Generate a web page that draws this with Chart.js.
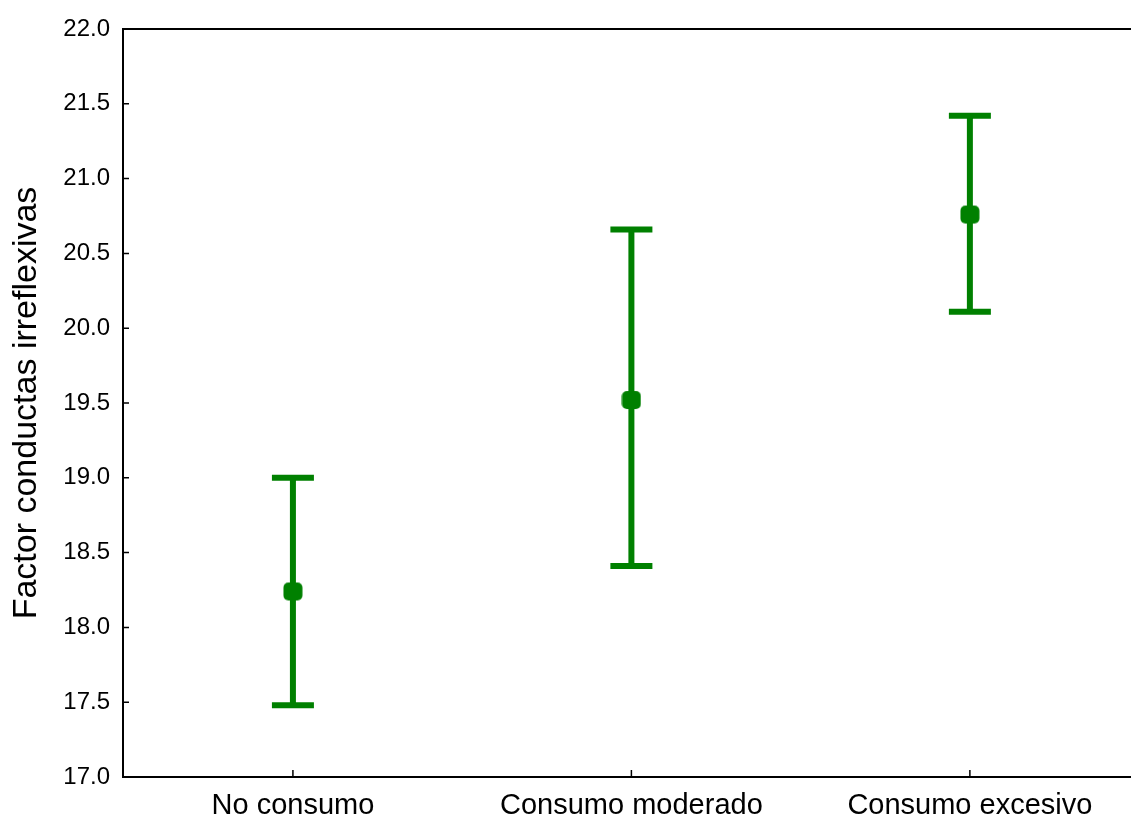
<!DOCTYPE html>
<html>
<head>
<meta charset="utf-8">
<script src="https://cdn.jsdelivr.net/npm/chart.js@4"></script>
<style>
html,body{margin:0;padding:0;background:#fff;}
#wrap{width:1131px;height:818px;position:relative;}
</style>
</head>
<body>
<div id="wrap"><canvas id="c" width="1131" height="818"></canvas></div>
<script>
const categories = ["No consumo", "Consumo moderado", "Consumo excesivo"];
const means = [18.24, 19.52, 20.76];
const lowerBounds = [17.48, 18.41, 20.11];
const upperBounds = [19.00, 20.66, 21.42];
const yTicks = [17.0, 17.5, 18.0, 18.5, 19.0, 19.5, 20.0, 20.5, 21.0, 21.5, 22.0];
const yTitle = "Factor conductas irreflexivas";
const green = "#008000";

// marker image (rounded square)
const marker = document.createElement('canvas');
marker.width = 20; marker.height = 20;
(function(){
  const m = marker.getContext('2d');
  m.fillStyle = green;
  m.beginPath();
  m.roundRect(0.5, 1, 19, 18, 5);
  m.fill();
})();

const framePlugin = {
  id: 'frame',
  beforeDatasetsDraw(chart) {
    const ctx = chart.ctx, a = chart.chartArea;
    const xs = chart.scales.x, ys = chart.scales.y;
    ctx.save();
    ctx.strokeStyle = '#000';
    ctx.lineWidth = 2;
    ctx.beginPath();
    ctx.moveTo(a.left, a.top); ctx.lineTo(a.right, a.top);
    ctx.moveTo(a.left, a.top - 1); ctx.lineTo(a.left, a.bottom + 1);
    ctx.moveTo(a.left - 1, a.bottom); ctx.lineTo(a.right, a.bottom);
    ctx.stroke();
    ctx.lineWidth = 1.5;
    ctx.beginPath();
    yTicks.forEach(v => {
      const py = ys.getPixelForValue(v);
      ctx.moveTo(a.left, py); ctx.lineTo(a.left + 6, py);
    });
    categories.forEach((c, i) => {
      const px = xs.getPixelForValue(i);
      ctx.moveTo(px, a.bottom); ctx.lineTo(px, a.bottom - 7);
    });
    ctx.stroke();
    // error bars
    ctx.strokeStyle = green;
    ctx.lineWidth = 6;
    ctx.lineCap = 'butt';
    categories.forEach((c, i) => {
      const px = xs.getPixelForValue(i);
      const pl = ys.getPixelForValue(lowerBounds[i]);
      const pu = ys.getPixelForValue(upperBounds[i]);
      ctx.beginPath();
      ctx.moveTo(px, pu); ctx.lineTo(px, pl);
      ctx.moveTo(px - 21, pu); ctx.lineTo(px + 21, pu);
      ctx.moveTo(px - 21, pl); ctx.lineTo(px + 21, pl);
      ctx.stroke();
    });
    ctx.restore();
  }
};

new Chart(document.getElementById('c'), {
  type: 'scatter',
  data: {
    datasets: [{
      data: means.map((m, i) => ({x: i, y: m})),
      backgroundColor: green,
      borderColor: green,
      borderWidth: 0,
      pointStyle: marker,
      pointRadius: 10,
      pointHoverRadius: 10
    }]
  },
  options: {
    responsive: false,
    animation: false,
    events: [],
    layout: {autoPadding: false, padding: {top: 29, right: 0, left: 0, bottom: 0}},
    plugins: {legend: {display: false}, tooltip: {enabled: false}},
    scales: {
      x: {
        type: 'linear',
        min: -0.502,
        max: 2.476,
        afterBuildTicks: s => { s.ticks = categories.map((c, i) => ({value: i})); },
        afterFit: s => { s.height = 41; s.paddingLeft = 0; s.paddingRight = 0; },
        grid: {display: false, drawTicks: false},
        border: {display: false},
        ticks: {
          padding: 12,
          color: '#000',
          maxRotation: 0,
          autoSkip: false,
          font: {family: 'Liberation Sans, Arial, sans-serif', size: 29},
          callback: v => categories[v] ?? ''
        }
      },
      y: {
        min: 17,
        max: 22,
        afterBuildTicks: s => { s.ticks = yTicks.map(v => ({value: v})); },
        afterFit: s => { s.width = 123; s.paddingTop = 0; s.paddingBottom = 0; },
        grid: {display: false, drawTicks: false},
        border: {display: false},
        title: {
          display: true,
          text: yTitle,
          color: '#000',
          padding: {top: 6, bottom: 0},
          font: {family: 'Liberation Sans, Arial, sans-serif', size: 34}
        },
        ticks: {
          padding: 13,
          color: '#000',
          autoSkip: false,
          font: {family: 'Liberation Sans, Arial, sans-serif', size: 24},
          callback: v => Number(v).toFixed(1)
        }
      }
    }
  },
  plugins: [framePlugin]
});
</script>
</body>
</html>
